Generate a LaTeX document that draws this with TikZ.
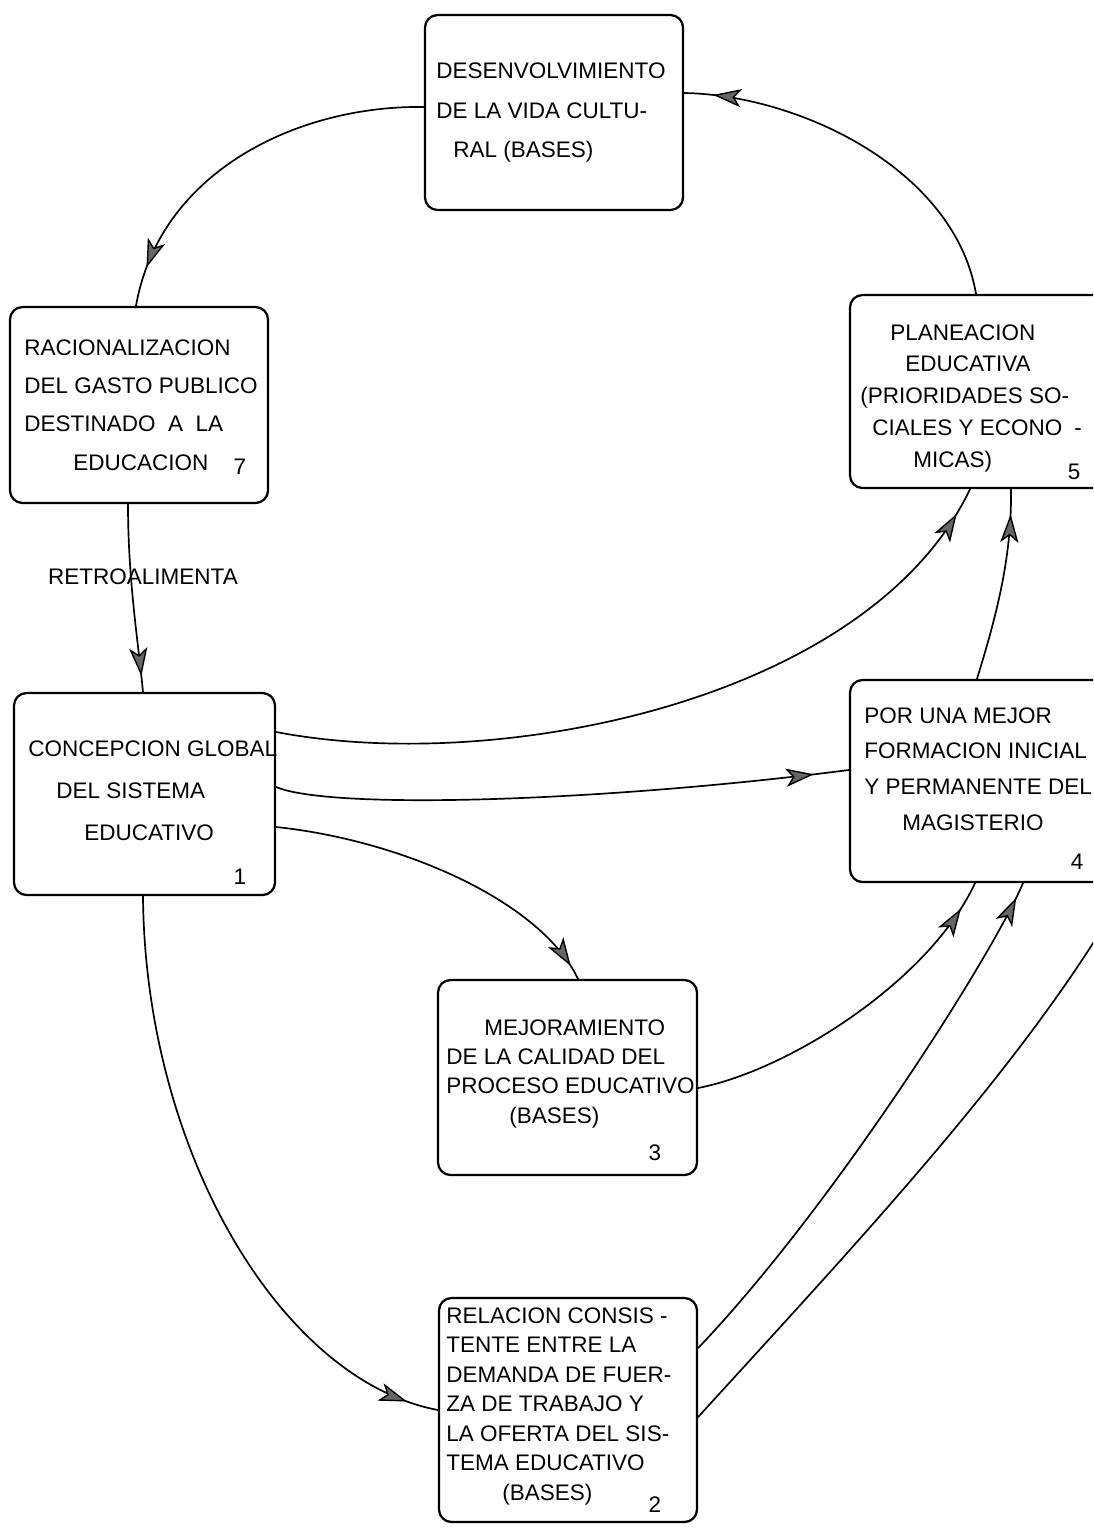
\documentclass[tikz,border=0pt]{standalone}
\usepackage{fontspec}
\setmainfont{Liberation Sans}
\usetikzlibrary{arrows.meta,decorations.markings}

\begin{document}
\begin{tikzpicture}[line cap=round,line join=round,x=0.025cm,y=-0.025cm,
  caja/.style={draw,line width=1.6pt,rounded corners=9pt,inner sep=0pt},
  texto/.style={anchor=north west,inner sep=0pt,align=left,font=\fontsize{16}{#1}\selectfont},
  num/.style={inner sep=0pt,font=\fontsize{16}{16}\selectfont},
  flecha/.style={line width=1.2pt,postaction={decorate},
    decoration={markings,mark=at position -#1 with {\arrow{Stealth[length=20pt,width=13pt,inset=5pt,fill=black!60,line width=1pt]}}}},
  linea/.style={line width=1.2pt}]

\useasboundingbox (0,0) rectangle (1093,1534);
\clip (0,0) rectangle (1093,1534);

\node[caja,minimum width=6.45cm,minimum height=4.875cm] (d) at (554,112.5) {};
\node[caja,minimum width=6.45cm,minimum height=4.9cm] (r) at (139,405) {};
\node[caja,minimum width=6.55cm,minimum height=4.825cm] (p) at (981,391.5) {};
\node[caja,minimum width=6.525cm,minimum height=5.05cm] (c) at (144.5,794) {};
\node[caja,minimum width=6.55cm,minimum height=5.05cm] (m) at (981,781) {};
\node[caja,minimum width=6.475cm,minimum height=4.875cm] (q) at (567.5,1077.5) {};
\node[caja,minimum width=6.45cm,minimum height=5.6cm] (rel) at (568,1410) {};

\node[texto=28pt] (d-t) at (436,63) {DESENVOLVIMIENTO\\DE LA VIDA CULTU-\\\hspace*{0.425cm}RAL (BASES)};
\node[texto=27.3pt] (r-t) at (24,339) {RACIONALIZACION\\DEL GASTO PUBLICO\\DESTINADO \ A \ LA\\\hspace*{1.225cm}EDUCACION};
\node[texto=22.6pt] (p-t) at (860,324) {\hspace*{0.75cm}PLANEACION\\\hspace*{1.125cm}EDUCATIVA\\(PRIORIDADES SO-\\\hspace*{0.3cm}CIALES Y ECONO\hspace{0.3cm}-\\\hspace*{1.325cm}MICAS)};
\node[texto=30.2pt] (c-t) at (28,740) {CONCEPCION GLOBAL\\\hspace*{0.7cm}DEL SISTEMA\\\hspace*{1.4cm}EDUCATIVO};
\node[texto=25.4pt] (m-t) at (864,707) {POR UNA MEJOR\\FORMACION INICIAL\\Y PERMANENTE DEL\\\hspace*{0.95cm}MAGISTERIO};
\node[texto=20.9pt] (q-t) at (446,1019) {\hspace*{0.95cm}MEJORAMIENTO\\DE LA CALIDAD DEL\\PROCESO EDUCATIVO\\\hspace*{1.575cm}(BASES)};
\node[texto=21pt] (rel-t) at (446,1307) {RELACION CONSIS -\\TENTE ENTRE LA\\DEMANDA DE FUER-\\ZA DE TRABAJO Y\\LA OFERTA DEL SIS-\\TEMA EDUCATIVO\\\hspace*{1.4cm}(BASES)};

\node[num] (n7) at (240,467) {7};
\node[num] (n5) at (1074,472) {5};
\node[num] (n1) at (240,877) {1};
\node[num] (n4) at (1077,862) {4};
\node[num] (n3) at (655,1153) {3};
\node[num] (n2) at (655,1505) {2};
\node[num] (retro) at (143,577) {RETROALIMENTA};

\coordinate (fuera) at (1125,890);

\draw[flecha=1cm] (d.west |- 0,107) .. controls (300,105) and (160,170) .. (r.north -| 136,0);
\draw[flecha=0.73cm] (p.north -| 976,0) .. controls (955,170) and (800,95) .. (d.east |- 0,93);
\draw[flecha=0.4cm] (r.south -| 128,0) .. controls (128,580) and (138,640) .. (c.north -| 143,0);
\draw[flecha=0.7cm] (c.east |- 0,732) .. controls (500,775) and (870,700) .. (p.south -| 970,0);
\draw[flecha=0.88cm] (c.east |- 0,787) .. controls (330,810) and (600,802) .. (m.west |- 0,770);
\draw[flecha=0.37cm] (c.east |- 0,827) .. controls (400,840) and (540,900) .. (q.north -| 578,0);
\draw[flecha=0.63cm] (m.north -| 977,0) .. controls (995,620) and (1012,560) .. (p.south -| 1011,0);
\draw[flecha=0.8cm] (c.south -| 143,0) .. controls (145,1150) and (280,1380) .. (rel.west |- 0,1410);
\draw[flecha=0.73cm] (q.east |- 0,1088) .. controls (790,1070) and (930,980) .. (m.south -| 975,0);
\draw[flecha=0.4cm] (rel.east |- 0,1348) .. controls (830,1210) and (990,960) .. (m.south -| 1023,0);
\draw[linea] (rel.east |- 0,1417) .. controls (850,1250) and (1030,1060) .. (fuera);

\end{tikzpicture}
\end{document}
